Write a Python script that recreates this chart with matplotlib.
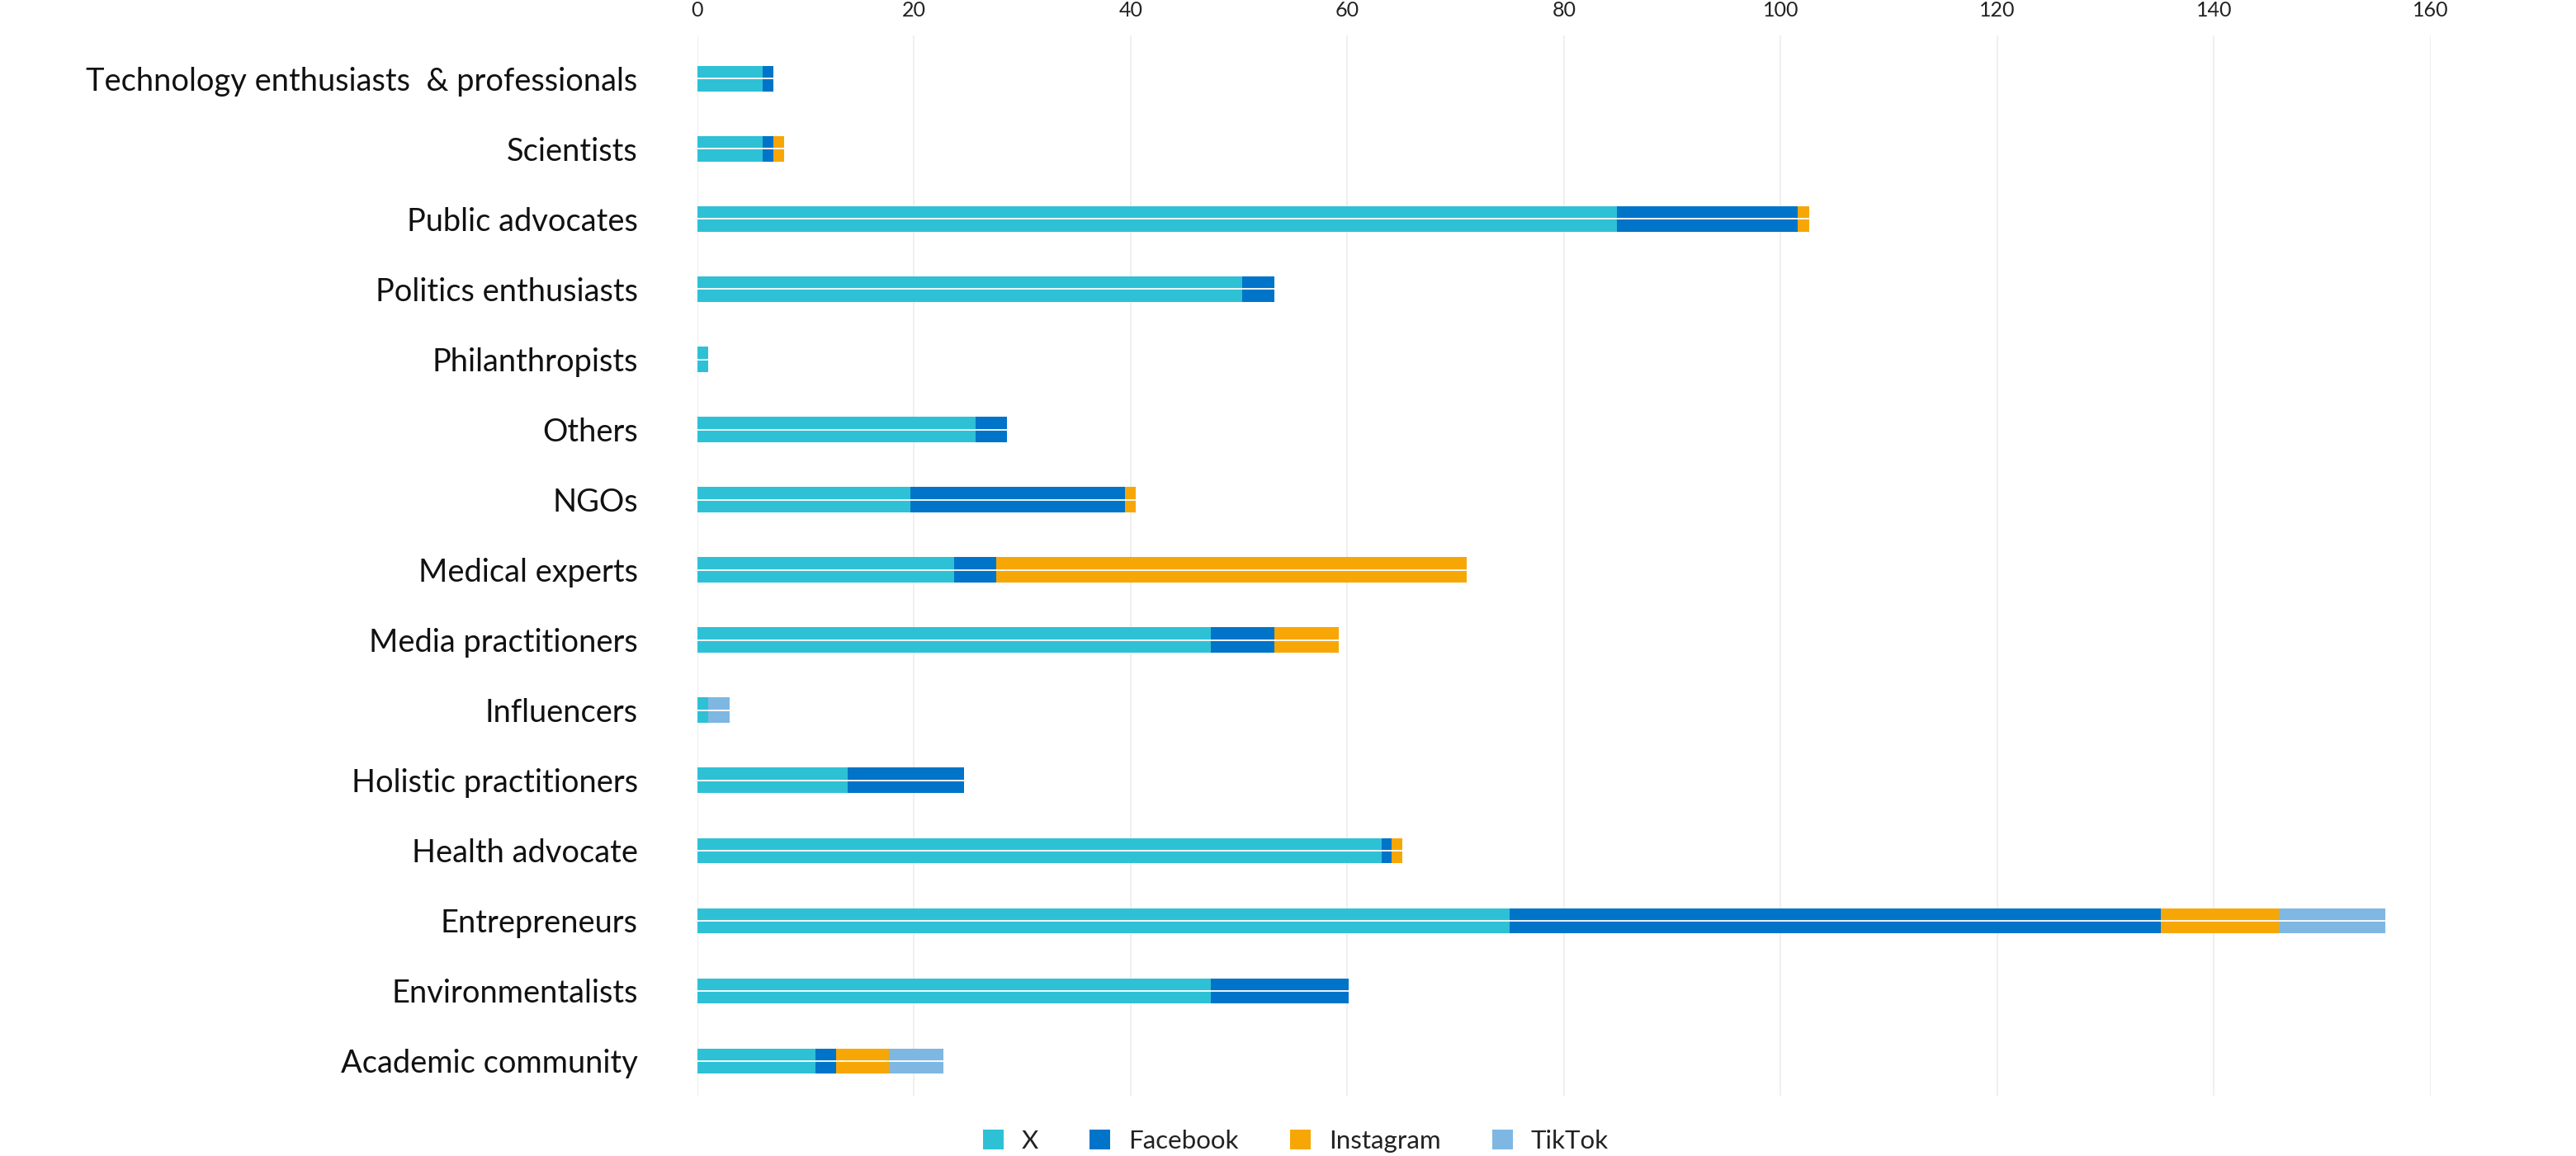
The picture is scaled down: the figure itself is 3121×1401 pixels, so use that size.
import numpy as np
import matplotlib
matplotlib.use("Agg")
import matplotlib.pyplot as plt
from matplotlib.patches import Patch

plt.rcParams['font.family'] = ['Lato', 'DejaVu Sans']

# categories, top to bottom
categories = [
    "Technology enthusiasts  & professionals",
    "Scientists",
    "Public advocates",
    "Politics enthusiasts",
    "Philanthropists",
    "Others",
    "NGOs",
    "Medical experts",
    "Media practitioners",
    "Influencers",
    "Holistic practitioners",
    "Health advocate",
    "Entrepreneurs",
    "Environmentalists",
    "Academic community",
]

# values
x_vals =         [6.0, 6.0, 84.9, 50.3, 1.0, 25.7, 19.7, 23.7, 47.4, 1.0, 13.9, 63.2, 75.0, 47.4, 10.9]
facebook_vals =  [1.0, 1.0, 16.7, 3.0, 0.0, 2.9, 19.8, 3.9, 5.9, 0.0, 10.7, 0.9, 60.1, 12.7, 1.9]
instagram_vals = [0.0, 1.0, 1.0, 0.0, 0.0, 0.0, 1.0, 43.4, 5.9, 0.0, 0.0, 1.0, 10.9, 0.0, 4.9]
tiktok_vals =    [0.0, 0.0, 0.0, 0.0, 0.0, 0.0, 0.0, 0.0, 0.0, 2.0, 0.0, 0.0, 9.8, 0.0, 5.0]

series = ["X", "Facebook", "Instagram", "TikTok"]
colors = ["#2ec1d5", "#0074c8", "#f7a705", "#7fb7e3"]
xticks = [0, 20, 40, 60, 80, 100, 120, 140, 160]

fig = plt.figure(figsize=(31.21, 14.01), dpi=100)
ax = fig.add_axes([0.2707, 0.0521, 0.9436 - 0.2707, 0.9172])

y = np.arange(len(categories))
left = np.zeros(len(categories))
for name, vals, c in zip(series, [x_vals, facebook_vals, instagram_vals, tiktok_vals], colors):
    vals = np.array(vals)
    ax.barh(y, vals, left=left, height=0.36, color=c, label=name, zorder=2)
    left += vals

# thin white split through the middle of each bar
ax.hlines(y, 0, left, color="white", linewidth=1.3, zorder=3)

ax.set_xlim(0, 160)
ax.set_ylim(len(categories) - 1 + 0.494, -0.615)
ax.set_yticks(y)
ax.set_yticklabels(categories, fontsize=27.4, color="#111111")
ax.set_xticks(xticks)
ax.set_xticklabels([str(t) for t in xticks], fontsize=18, color="#222222")
ax.xaxis.tick_top()
ax.tick_params(axis="y", length=0, pad=52)
ax.tick_params(axis="x", length=0, pad=14)

ax.grid(axis="x", color="#eeeeee", linewidth=1.3, zorder=0)
ax.set_axisbelow(True)
for s in ax.spines.values():
    s.set_visible(False)

handles = [Patch(facecolor=c, edgecolor="none", label=n) for n, c in zip(series, colors)]
fig.legend(handles=handles, loc="center", bbox_to_anchor=(0.503, 0.013), ncol=4,
           frameon=False, fontsize=22.5, handlelength=0.8, handleheight=0.8,
           handletextpad=0.7, columnspacing=2.0, labelcolor="#222222")

fig.savefig("out.png", dpi=100, facecolor="white")
